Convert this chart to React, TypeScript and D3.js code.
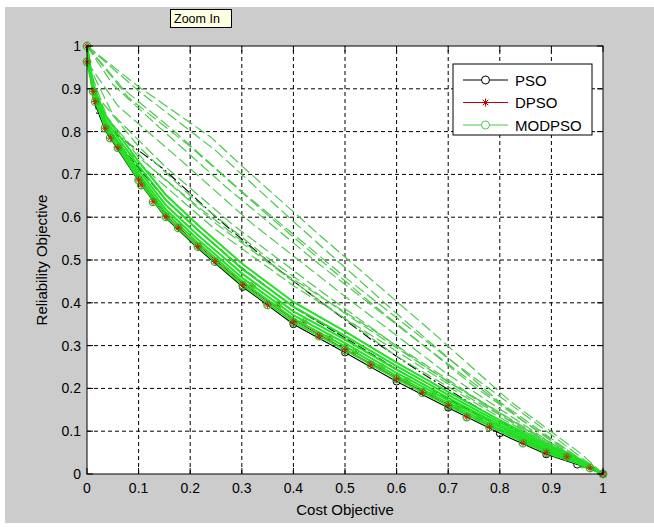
import React from "react";
import * as d3 from "d3";

const xTicks = [0, 0.1, 0.2, 0.3, 0.4, 0.5, 0.6, 0.7, 0.8, 0.9, 1];
const yTicks = [0, 0.1, 0.2, 0.3, 0.4, 0.5, 0.6, 0.7, 0.8, 0.9, 1];
const xTickLabels = ["0", "0.1", "0.2", "0.3", "0.4", "0.5", "0.6", "0.7", "0.8", "0.9", "1"];
const yTickLabels = ["0", "0.1", "0.2", "0.3", "0.4", "0.5", "0.6", "0.7", "0.8", "0.9", "1"];
const seriesNames = ["PSO", "DPSO", "MODPSO"];

// shared cost grid for the runs near the front
const costGrid = [0, 0.012, 0.035, 0.06, 0.1, 0.153, 0.215, 0.302, 0.4, 0.5, 0.6, 0.7, 0.8, 0.89, 0.95, 1];

const psoLowerY = [1, 0.876, 0.804, 0.758, 0.684, 0.598, 0.527, 0.437, 0.35, 0.284, 0.216, 0.155, 0.095, 0.046, 0.022, 0];
const psoMidY = [1, 0.885, 0.815, 0.775, 0.715, 0.64, 0.57, 0.48, 0.39, 0.318, 0.245, 0.176, 0.11, 0.056, 0.027, 0];
const psoUpperX = [0, 0.019, 0.06, 0.112, 0.151, 0.25, 0.368, 0.45, 0.55, 0.65, 0.75, 0.85, 0.93, 1];
const psoUpperY = [1, 0.843, 0.79, 0.745, 0.71, 0.6, 0.48, 0.405, 0.315, 0.235, 0.16, 0.09, 0.04, 0];

const dpsoY = [1, 0.894, 0.808, 0.762, 0.69, 0.605, 0.535, 0.445, 0.36, 0.292, 0.225, 0.162, 0.1, 0.052, 0.028, 0];

const modpsoRun1Y = [1, 0.894, 0.808, 0.762, 0.687, 0.601, 0.531, 0.441, 0.355, 0.29, 0.222, 0.16, 0.1, 0.05, 0.025, 0];
const modpsoRun2Y = [1, 0.9, 0.816, 0.77, 0.695, 0.61, 0.54, 0.449, 0.363, 0.298, 0.229, 0.166, 0.105, 0.054, 0.028, 0];
const modpsoRun3Y = [0.963, 0.895, 0.822, 0.776, 0.702, 0.618, 0.548, 0.457, 0.371, 0.306, 0.236, 0.172, 0.11, 0.058, 0.03, 0];
const modpsoRun4Y = [1, 0.88, 0.815, 0.775, 0.71, 0.628, 0.558, 0.467, 0.38, 0.314, 0.244, 0.178, 0.115, 0.062, 0.033, 0];
const modpsoRun5Y = [1, 0.905, 0.83, 0.785, 0.72, 0.64, 0.57, 0.478, 0.391, 0.323, 0.252, 0.185, 0.12, 0.066, 0.035, 0];
const modpsoRun6Y = [1, 0.91, 0.838, 0.795, 0.73, 0.652, 0.582, 0.49, 0.402, 0.333, 0.26, 0.192, 0.126, 0.07, 0.038, 0];

// sparse MODPSO runs drawn dashed above the front
const dashRun1: [number, number][] = [[0, 1], [0.1, 0.905], [0.24, 0.787], [0.3, 0.72], [0.446, 0.563], [0.665, 0.336], [0.82, 0.17], [0.96, 0.045], [1, 0]];
const dashRun2: [number, number][] = [[0, 1], [0.1, 0.895], [0.25, 0.755], [0.4, 0.59], [0.6, 0.375], [0.8, 0.168], [0.95, 0.04], [1, 0]];
const dashRun3: [number, number][] = [[0, 1], [0.08, 0.88], [0.2, 0.765], [0.35, 0.605], [0.55, 0.4], [0.75, 0.205], [0.92, 0.06], [1, 0]];
const dashRun4: [number, number][] = [[0, 0.963], [0.06, 0.86], [0.18, 0.735], [0.32, 0.585], [0.5, 0.415], [0.7, 0.232], [0.9, 0.072], [1, 0]];
const dashRun5: [number, number][] = [[0, 0.963], [0.05, 0.84], [0.15, 0.72], [0.28, 0.585], [0.45, 0.43], [0.65, 0.255], [0.85, 0.1], [1, 0]];
const dashRun6: [number, number][] = [[0, 0.963], [0.04, 0.83], [0.12, 0.72], [0.25, 0.585], [0.4, 0.45], [0.6, 0.275], [0.8, 0.132], [1, 0]];
const dashRun7: [number, number][] = [[0.012, 0.894], [0.1, 0.765], [0.2, 0.65], [0.35, 0.505], [0.5, 0.375], [0.7, 0.215], [0.9, 0.072], [1, 0]];
const dashRun8: [number, number][] = [[0.035, 0.808], [0.12, 0.705], [0.25, 0.57], [0.4, 0.44], [0.55, 0.325], [0.75, 0.172], [0.93, 0.05], [1, 0]];
const dashRun9: [number, number][] = [[0, 1], [0.07, 0.9], [0.17, 0.8], [0.3, 0.66], [0.5, 0.46], [0.7, 0.27], [0.88, 0.11], [1, 0]];
const dashRun10: [number, number][] = [[0, 1], [0.05, 0.91], [0.14, 0.81], [0.27, 0.67], [0.45, 0.49], [0.62, 0.33], [0.85, 0.12], [1, 0]];
const dashRun11: [number, number][] = [[0.016, 0.87], [0.1, 0.74], [0.22, 0.62], [0.38, 0.47], [0.55, 0.34], [0.75, 0.18], [0.95, 0.03], [1, 0]];
const dashRuns = [dashRun1, dashRun2, dashRun3, dashRun4, dashRun5, dashRun6, dashRun7, dashRun8, dashRun9, dashRun10, dashRun11];

// marker points along the front
const frontMarkX = [0, 0, 0.012, 0.016, 0.035, 0.045, 0.06, 0.1, 0.105, 0.128, 0.153, 0.177, 0.215, 0.248, 0.302, 0.35, 0.4, 0.45, 0.5, 0.55, 0.6, 0.65, 0.7, 0.736, 0.78, 0.845, 0.89, 0.93, 0.975, 1];
const frontMarkY = [1, 0.963, 0.894, 0.87, 0.808, 0.785, 0.762, 0.687, 0.675, 0.636, 0.601, 0.575, 0.531, 0.496, 0.441, 0.395, 0.355, 0.322, 0.29, 0.255, 0.222, 0.19, 0.16, 0.133, 0.11, 0.072, 0.05, 0.04, 0.014, 0];
const bandMarkX = [0.32, 0.37, 0.42, 0.47, 0.52, 0.57, 0.62, 0.67, 0.72, 0.76, 0.82, 0.86, 0.91, 0.96];
const bandMarkY = [0.44, 0.395, 0.355, 0.318, 0.284, 0.25, 0.217, 0.185, 0.155, 0.13, 0.095, 0.073, 0.045, 0.022];

const FONT = "Arial, 'Liberation Sans', sans-serif";
const GREEN = "#22e022";
const GREEN_D = "#4cc84c";

const x = d3.scaleLinear().domain([0, 1]).range([87, 603]);
const y = d3.scaleLinear().domain([0, 1]).range([474, 46]);
const line = d3.line<[number, number]>().x((d) => x(d[0])).y((d) => y(d[1]));

const zip = (xs: number[], ys: number[]): [number, number][] => xs.map((v, i) => [v, ys[i]]);

function Asterisk({ cx, cy, s = 4, color = "#d40000" }: { cx: number; cy: number; s?: number; color?: string }) {
  const d = s * 0.7;
  return (
    <g stroke={color} strokeWidth={1}>
      <line x1={cx - s} y1={cy} x2={cx + s} y2={cy} />
      <line x1={cx} y1={cy - s} x2={cx} y2={cy + s} />
      <line x1={cx - d} y1={cy - d} x2={cx + d} y2={cy + d} />
      <line x1={cx - d} y1={cy + d} x2={cx + d} y2={cy - d} />
    </g>
  );
}

export default function App() {
  const gridX = xTicks.slice(1, -1);
  const gridY = yTicks.slice(1, -1);
  const psoLower = zip(costGrid, psoLowerY);
  const psoMid = zip(costGrid, psoMidY);
  const psoUpper = zip(psoUpperX, psoUpperY);
  const dpso = zip(costGrid, dpsoY);
  const modRuns = [modpsoRun6Y, modpsoRun5Y, modpsoRun4Y, modpsoRun3Y, modpsoRun2Y, modpsoRun1Y].map((ys) => zip(costGrid, ys));
  const front = zip(frontMarkX, frontMarkY);
  const band = zip(bandMarkX, bandMarkY);

  return (
    <svg width={654} height={527} style={{ position: "absolute", left: 0, top: 0, fontFamily: FONT }}>
      <rect x={0} y={0} width={654} height={527} fill="#ffffff" />
      <rect x={5} y={7} width={649} height={516} fill="#cccccc" />
      <rect x={x(0)} y={y(1)} width={x(1) - x(0)} height={y(0) - y(1)} fill="#ffffff" />

      {/* grid */}
      <g stroke="#000" strokeWidth={1} strokeDasharray="4,3">
        {gridX.map((t) => (
          <line key={"gx" + t} x1={x(t)} x2={x(t)} y1={y(0)} y2={y(1)} />
        ))}
        {gridY.map((t) => (
          <line key={"gy" + t} x1={x(0)} x2={x(1)} y1={y(t)} y2={y(t)} />
        ))}
      </g>

      {/* PSO lines */}
      <g fill="none" stroke="#000" strokeWidth={1.1}>
        <path d={line(psoUpper) || ""} strokeDasharray="10,3,2,3" />
        <path d={line(psoMid) || ""} strokeDasharray="9,3" />
        <path d={line(psoLower) || ""} />
      </g>
      <g fill="none" stroke="#000" strokeWidth={1}>
        {psoLower.filter((p) => p[0] >= 0.3).map((p, i) => (
          <circle key={"pc" + i} cx={x(p[0])} cy={y(p[1])} r={3.5} />
        ))}
      </g>
      {/* DPSO line */}
      <path d={line(dpso) || ""} fill="none" stroke="#c00000" strokeWidth={1} />

      {/* MODPSO dashed runs */}
      <g fill="none" stroke={GREEN_D} strokeWidth={1.2} strokeDasharray="11,4">
        {dashRuns.map((r, i) => (
          <path key={"dr" + i} d={line(r) || ""} />
        ))}
      </g>

      {band.map((p, i) => (
        <Asterisk key={"ba" + i} cx={x(p[0])} cy={y(p[1])} s={3} color="#a04010" />
      ))}

      {/* MODPSO solid runs */}
      <g fill="none" stroke={GREEN} strokeWidth={2}>
        {modRuns.map((r, i) => (
          <path key={"mr" + i} d={line(r) || ""} />
        ))}
      </g>
      <g fill="none" stroke={GREEN} strokeWidth={1}>
        {band.map((p, i) => (
          <circle key={"bc" + i} cx={x(p[0])} cy={y(p[1])} r={3.5} />
        ))}
      </g>

      {/* front markers on top */}
      <g fill="none" stroke="#2bbf2b" strokeWidth={1.2}>
        {front.map((p, i) => (
          <circle key={"fc" + i} cx={x(p[0])} cy={y(p[1])} r={3.8} />
        ))}
      </g>
      {front.map((p, i) => (
        <Asterisk key={"fa" + i} cx={x(p[0])} cy={y(p[1])} s={3.5} color="#b03000" />
      ))}

      {/* frame */}
      <rect x={x(0)} y={y(1)} width={x(1) - x(0)} height={y(0) - y(1)} fill="none" stroke="#000" strokeWidth={1} />
      {/* ticks */}
      <g stroke="#000" strokeWidth={1}>
        {xTicks.map((t) => (
          <g key={"tx" + t}>
            <line x1={x(t)} x2={x(t)} y1={y(0)} y2={y(0) - 6} />
            <line x1={x(t)} x2={x(t)} y1={y(1)} y2={y(1) + 6} />
          </g>
        ))}
        {yTicks.map((t) => (
          <g key={"ty" + t}>
            <line x1={x(0)} x2={x(0) + 6} y1={y(t)} y2={y(t)} />
            <line x1={x(1)} x2={x(1) - 6} y1={y(t)} y2={y(t)} />
          </g>
        ))}
      </g>
      {/* tick labels */}
      <g fontSize={14} fill="#000">
        {xTicks.map((t, i) => (
          <text key={"lx" + t} x={x(t)} y={493} textAnchor="middle">
            {xTickLabels[i]}
          </text>
        ))}
        {yTicks.map((t, i) => (
          <text key={"ly" + t} x={81} y={y(t) + 5} textAnchor="end">
            {yTickLabels[i]}
          </text>
        ))}
      </g>
      <text x={(x(0) + x(1)) / 2} y={515} fontSize={15} textAnchor="middle" fill="#000">
        Cost Objective
      </text>
      <text transform={`translate(47,${(y(0) + y(1)) / 2}) rotate(-90)`} fontSize={15} textAnchor="middle" fill="#000">
        Reliability Objective
      </text>

      {/* legend */}
      <rect x={453} y={64} width={139} height={71} fill="#fff" stroke="#000" strokeWidth={1} />
      {seriesNames.map((name, i) => {
        const ly = 80 + i * 22.5;
        const col = i === 0 ? "#000" : i === 1 ? "#c00000" : GREEN_D;
        return (
          <g key={name}>
            <line x1={463} x2={508} y1={ly} y2={ly} stroke={col} strokeWidth={1} />
            {i === 1 ? (
              <Asterisk cx={485.5} cy={ly} s={4} color="#c00000" />
            ) : (
              <circle cx={485.5} cy={ly} r={4} fill="#fff" stroke={col} strokeWidth={1} />
            )}
            <text x={515} y={ly + 5.5} fontSize={15} fill="#000">
              {name}
            </text>
          </g>
        );
      })}

      {/* Zoom In tooltip */}
      <rect x={170.5} y={9.5} width={61} height={18} fill="#ffffe1" stroke="#000" strokeWidth={1} />
      <text x={174} y={23} fontSize={12.5} fill="#000">
        Zoom In
      </text>
    </svg>
  );
}
